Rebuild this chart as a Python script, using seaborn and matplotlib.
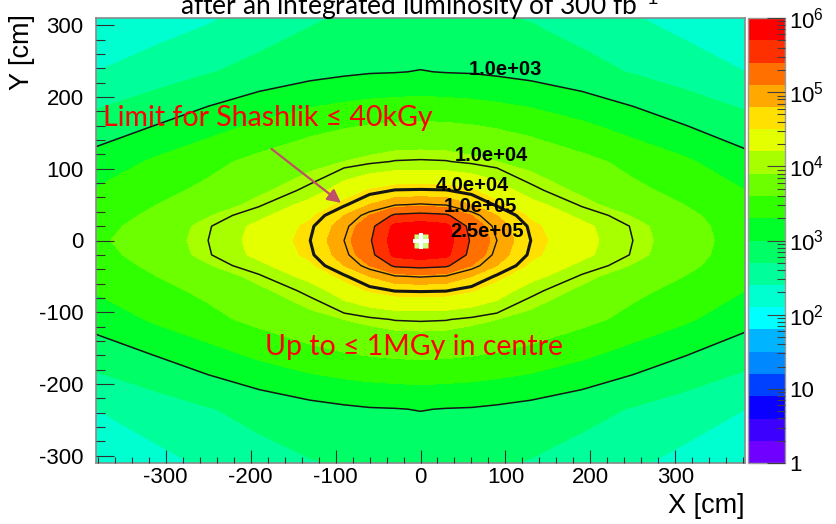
import numpy as np
import matplotlib
import matplotlib.pyplot as plt
import seaborn as sns
from matplotlib.ticker import MultipleLocator, FixedLocator

matplotlib.use("Agg")

# Grid nodes of the dose map (cm)
x_cm = [-382, -310, -250, -190, -130, -90, -60, -30, 0, 30, 60, 90, 130, 190, 250, 310, 382]
y_cm = [-310, -235, -160, -110, -70, -50, -35, -20, 0, 20, 35, 50, 70, 110, 160, 235, 310]

# log10(dose / Gy), one row per y node (bottom to top)
log_dose = [
    [2.20, 2.32, 2.44, 2.58, 2.68, 2.73, 2.75, 2.76, 2.76, 2.76, 2.75, 2.73, 2.68, 2.57, 2.44, 2.32, 2.20],
    [2.40, 2.55, 2.68, 2.80, 2.90, 2.95, 2.98, 2.99, 3.01, 2.99, 2.98, 2.95, 2.90, 2.80, 2.68, 2.55, 2.40],
    [2.83, 3.01, 3.18, 3.35, 3.50, 3.57, 3.61, 3.64, 3.65, 3.64, 3.61, 3.57, 3.50, 3.35, 3.18, 3.01, 2.82],
    [3.12, 3.35, 3.52, 3.68, 3.82, 3.90, 3.96, 4.01, 4.02, 4.01, 3.96, 3.90, 3.82, 3.68, 3.52, 3.35, 3.10],
    [3.32, 3.52, 3.66, 3.85, 4.05, 4.35, 4.52, 4.61, 4.62, 4.61, 4.52, 4.35, 4.05, 3.85, 3.66, 3.52, 3.30],
    [3.36, 3.60, 3.76, 3.97, 4.30, 4.57, 4.80, 4.98, 5.02, 4.98, 4.80, 4.57, 4.30, 3.97, 3.76, 3.60, 3.35],
    [3.42, 3.68, 3.88, 4.13, 4.45, 4.80, 5.10, 5.45, 5.50, 5.45, 5.10, 4.80, 4.45, 4.13, 3.88, 3.68, 3.40],
    [3.50, 3.73, 3.98, 4.27, 4.56, 4.93, 5.30, 5.78, 5.85, 5.78, 5.30, 4.93, 4.56, 4.27, 3.98, 3.73, 3.43],
    [3.55, 3.76, 4.00, 4.30, 4.60, 5.00, 5.36, 5.85, 5.90, 5.85, 5.36, 5.00, 4.60, 4.30, 4.00, 3.75, 3.45],
    [3.50, 3.73, 3.98, 4.27, 4.56, 4.93, 5.30, 5.78, 5.85, 5.78, 5.30, 4.93, 4.56, 4.27, 3.98, 3.73, 3.43],
    [3.42, 3.68, 3.88, 4.13, 4.45, 4.80, 5.10, 5.45, 5.50, 5.45, 5.10, 4.80, 4.45, 4.13, 3.88, 3.68, 3.40],
    [3.36, 3.60, 3.76, 3.97, 4.30, 4.57, 4.80, 4.98, 5.02, 4.98, 4.80, 4.57, 4.30, 3.97, 3.76, 3.60, 3.35],
    [3.32, 3.52, 3.66, 3.85, 4.05, 4.35, 4.52, 4.61, 4.62, 4.61, 4.52, 4.35, 4.05, 3.85, 3.66, 3.52, 3.30],
    [3.12, 3.35, 3.52, 3.68, 3.82, 3.90, 3.96, 4.01, 4.02, 4.01, 3.96, 3.90, 3.82, 3.68, 3.52, 3.35, 3.10],
    [2.83, 3.01, 3.18, 3.35, 3.50, 3.57, 3.61, 3.64, 3.65, 3.64, 3.61, 3.57, 3.50, 3.35, 3.18, 3.01, 2.82],
    [2.40, 2.55, 2.68, 2.80, 2.90, 2.95, 2.98, 2.99, 3.01, 2.99, 2.98, 2.95, 2.90, 2.80, 2.68, 2.55, 2.40],
    [2.12, 2.25, 2.36, 2.52, 2.66, 2.73, 2.75, 2.76, 2.76, 2.76, 2.75, 2.73, 2.68, 2.57, 2.42, 2.30, 2.18],
]

# ROOT-like palette, 20 bands from 1 to 1e6 Gy
band_colors = [
    "#7000ff", "#3c00ff", "#0a00ff", "#0040ff", "#0088ff",
    "#00b4ff", "#00ffff", "#00ffd0", "#00ff9a", "#00ff66",
    "#00ff28", "#30ff00", "#6cff00", "#a8ff00", "#e4ff00",
    "#ffe000", "#ffa800", "#ff7000", "#ff3000", "#ff0000",
]

# Black iso-dose lines and their labels
line_levels = [1e3, 1e4, 4e4, 1e5, 2.5e5]
line_widths = [1.1, 1.1, 2.2, 1.0, 1.0]
line_labels = ["1.0e+03", "1.0e+04", "4.0e+04", "1.0e+05", "2.5e+05"]
label_x = [100, 84, 61, 71, 78]
label_y = [238, 119, 77, 47, 13]

cbar_ticks = [0, 1, 2, 3, 4, 5, 6]
cbar_ticklabels = ["1", "10", "$10^{2}$", "$10^{3}$", "$10^{4}$", "$10^{5}$", "$10^{6}$"]

beam_x = [0]
beam_y = [0]

sns.set_style("white")
plt.rcParams["font.family"] = ["Liberation Sans", "DejaVu Sans"]
plt.rcParams["mathtext.fontset"] = "custom"
plt.rcParams["mathtext.rm"] = "Liberation Sans"
plt.rcParams["mathtext.it"] = "Liberation Sans:italic"
plt.rcParams["axes.unicode_minus"] = False
plt.rcParams["axes.axisbelow"] = False
plt.rcParams["text.color"] = "black"
plt.rcParams["xtick.color"] = "black"
plt.rcParams["ytick.color"] = "black"

W, H = 836, 524
fig = plt.figure(figsize=(W / 100, H / 100), dpi=100)
ax = fig.add_axes([96 / W, 1 - 463 / H, 649 / W, 445 / H])
cax = fig.add_axes([748 / W, 1 - 463 / H, 37 / W, 445 / H])

Z = np.array(log_dose)
cf = ax.contourf(x_cm, y_cm, Z, levels=np.linspace(0, 6, 21), colors=band_colors)
ax.contour(x_cm, y_cm, Z, levels=np.log10(line_levels), colors="#151515",
           linewidths=line_widths)

for lx, ly, lab in zip(label_x, label_y, line_labels):
    ax.text(lx, ly, lab, fontsize=14.5, fontweight="bold", ha="center", va="center",
            color="black")

# beam pipe hole in the centre
ax.plot(beam_x, beam_y, marker="s", ms=10, color="#c8ff80", mec="none", ls="none")
ax.plot(beam_x, beam_y, marker="+", ms=11, mew=2.8, color="white", ls="none")

ax.set_axisbelow(False)
ax.set_xlim(-382, 382)
ax.set_ylim(-310, 310)
ax.set_xticks([-300, -200, -100, 0, 100, 200, 300])
ax.set_yticks([-300, -200, -100, 0, 100, 200, 300])
ax.xaxis.set_minor_locator(MultipleLocator(20))
ax.yaxis.set_minor_locator(MultipleLocator(20))
ax.tick_params(which="both", bottom=True, left=True, top=False, right=False)
ax.tick_params(axis="x", which="major", direction="in", length=9.5, width=0.8,
               color="#303030", pad=3, labelsize=16)
ax.tick_params(axis="x", which="minor", direction="in", length=4.5, width=0.8, color="#303030")
ax.tick_params(axis="y", which="major", direction="in", length=13, width=0.8,
               color="#303030", pad=9, labelsize=16)
ax.tick_params(axis="y", which="minor", direction="in", length=6.5, width=0.8, color="#303030")
for sp in ax.spines.values():
    sp.set_color("#8a8a8a")
    sp.set_linewidth(1.2)

# red annotations
red_font = ["Lato", "DejaVu Sans"]
ax.text(-374, 160, "Limit for Shashlik \u2264 40kGy", color="#ff0000", fontsize=20.5,
        family=red_font, ha="left", va="baseline")
ax.text(-8, -160, "Up to \u2264 1MGy in centre", color="#ff0000", fontsize=20.5,
        family=red_font, ha="center", va="baseline")
ax.annotate("", xy=(-91, 50), xytext=(-178, 130),
            arrowprops=dict(arrowstyle="-|>", color="#bf5068", lw=1.6, mutation_scale=20))

# colour scale
cb = fig.colorbar(cf, cax=cax)
cax.set_axisbelow(False)
cb.set_ticks(cbar_ticks)
cb.set_ticklabels(cbar_ticklabels)
minor_pos = [np.log10(k * 10 ** d) for d in range(6) for k in range(2, 10)]
cax.yaxis.set_minor_locator(FixedLocator(minor_pos))
cax.yaxis.set_ticks_position("right")
cax.tick_params(which="both", right=True, left=False)
cax.tick_params(which="major", direction="in", length=13, width=0.8, color="#404040",
                pad=3, labelsize=16)
cax.tick_params(which="minor", direction="in", length=6, width=0.8, color="#404040")
cb.outline.set_edgecolor("#9a9a9a")
cb.outline.set_linewidth(1.0)

fig.text(745 / W, 1 - 506 / H, "X [cm]", ha="right", va="center", fontsize=19.5)
fig.text(22 / W, 1 - 14 / H, "Y [cm]", ha="center", va="top", rotation=90, fontsize=19.5)
# the title sits mostly above the canvas, as in the reference
fig.text(419 / W, 1 - 16 / H, "after an integrated luminosity of 300 fb$^{-1}$",
         ha="center", va="baseline", fontsize=19, family=red_font)

fig.savefig("out.png", dpi=100)
